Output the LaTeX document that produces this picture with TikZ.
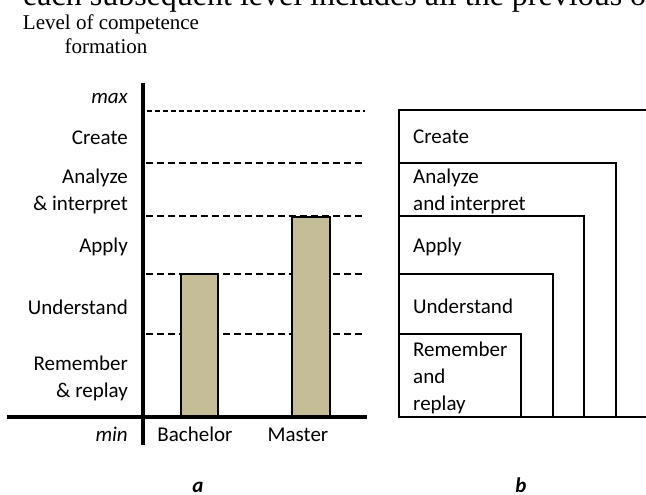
\documentclass[tikz,border=0pt]{standalone}
\usepackage{fontspec}
\setmainfont{Liberation Serif}
\newfontfamily\calibri{Carlito}
\usetikzlibrary{positioning}
\definecolor{barfill}{RGB}{196,189,151}

\begin{document}
\begin{tikzpicture}[x=1pt,y=-1pt,
    lbl/.style={font=\calibri\fontsize{21}{27}\selectfont,inner sep=0pt},
    ilbl/.style={font=\calibri\itshape\fontsize{21}{27}\selectfont,inner sep=0pt},
    panel/.style={font=\calibri\bfseries\itshape\fontsize{21}{25}\selectfont,inner sep=0pt},
    level/.style={line width=1.6pt,dash pattern=on 7pt off 4pt},
    bar/.style={draw,fill=barfill,line width=1.6pt},
    box/.style={draw,line width=2pt}]
    \clip (0,0) rectangle (646,495);
    % running text above and axis title
    \node[font=\fontsize{32}{36}\selectfont,anchor=base west,inner sep=0pt] (txt) at (23,6) {each subsequent level includes all the previous ones};
    \node[font=\fontsize{21}{24}\selectfont,anchor=base,inner sep=0pt] (ttl1) at (111,30) {Level of competence};
    \node[font=\fontsize{21}{24}\selectfont,anchor=base,inner sep=0pt] (ttl2) at (106,54) {formation};

    % (a) levels reached
    \draw[level,dash pattern=on 4.5pt off 3.5pt] (147,111) -- (365,111);
    \foreach \y in {163,216,274,334}
        \draw[level] (146,\y) -- (365,\y);
    \draw[bar] (181,417) rectangle (218,274);
    \draw[bar] (292,417) rectangle (330,217);
    \draw[line width=3.5pt] (143,83) -- (143,445);
    \draw[line width=3.5pt] (7,417) -- (367,417);

    \node[ilbl,anchor=east] (max) at (128,98) {max};
    \node[lbl,anchor=east] (create) at (128,138) {Create};
    \node[lbl,anchor=east,align=right] (analyze) at (128,191.5) {Analyze\\\& interpret};
    \node[lbl,anchor=east] (apply) at (128,247) {Apply};
    \node[lbl,anchor=east] (underst) at (128,307) {Understand};
    \node[lbl,anchor=east,align=right] (remember) at (128,378) {Remember\\\& replay};
    \node[ilbl,anchor=base east] (min) at (128,441) {min};
    \node[lbl,anchor=base] (bachelor) at (195,441) {Bachelor};
    \node[lbl,anchor=base] (master) at (298,441) {Master};
    \node[panel,anchor=base] (pana) at (198,492) {a};

    % (b) nested levels
    \draw[box] (399,110) rectangle (660,417);
    \draw[box] (399,163) rectangle (616,417);
    \draw[box] (399,216) rectangle (584,417);
    \draw[box] (399,274) rectangle (553,417);
    \draw[box] (399,334) rectangle (521,417);

    \node[lbl,anchor=west] (createb) at (413,137) {Create};
    \node[lbl,anchor=west,align=left] (analyzeb) at (413,191.5) {Analyze\\and interpret};
    \node[lbl,anchor=west] (applyb) at (413,247) {Apply};
    \node[lbl,anchor=west] (understb) at (413,306) {Understand};
    \node[lbl,anchor=west,align=left] (rememberb) at (413,378) {Remember\\and\\replay};
    \node[panel,anchor=base] (panb) at (521,492) {b};
\end{tikzpicture}
\end{document}
